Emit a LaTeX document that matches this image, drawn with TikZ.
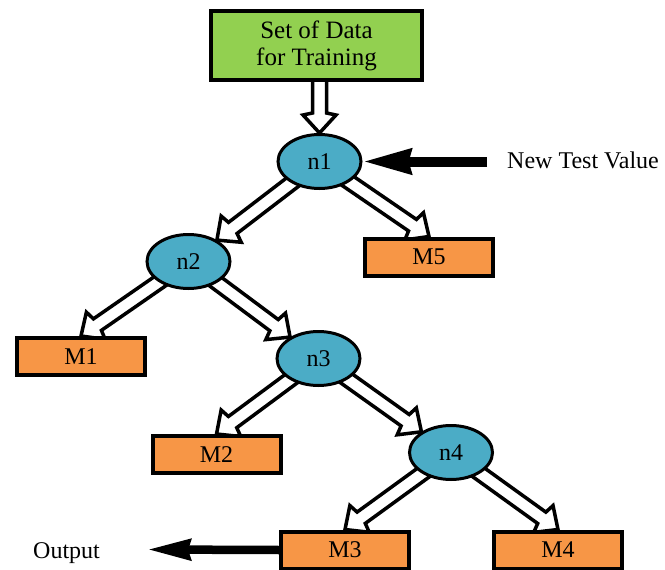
\documentclass[tikz,border=0pt]{standalone}
\usepackage{fontspec}
\setmainfont{Liberation Serif}
\usetikzlibrary{arrows.meta,shapes.geometric,backgrounds}

\definecolor{leafgreen}{HTML}{92D050}
\definecolor{nodeblue}{HTML}{4BACC6}
\definecolor{modelorange}{HTML}{F79646}

\tikzset{
  every node/.style={font=\fontsize{24}{27}\selectfont},
  databox/.style={draw, line width=4pt, fill=leafgreen, minimum width=211pt,
    minimum height=69pt, align=center, inner sep=0pt,
    font=\fontsize{25}{27}\selectfont},
  splitnode/.style={ellipse, draw, line width=3pt, fill=nodeblue,
    minimum width=83pt, minimum height=54pt, inner sep=0pt},
  modelbox/.style={draw, line width=4pt, fill=modelorange,
    minimum width=128pt, minimum height=37pt, inner sep=0pt},
  plaintext/.style={inner sep=0pt},
  hollow/.style={draw=black, fill=white, line width=3.5pt, line join=miter},
  inarrow/.style={line width=10pt, -{Stealth[length=48pt,width=24pt,inset=2pt]}},
  outarrow/.style={line width=8.5pt, -{Stealth[length=43pt,width=20pt,inset=2pt]}},
}

% Outlined (hollow) block arrow from the first point to the second
\newcommand\hollowarrow[2]{%
  \path (#1); \pgfgetlastxy{\hax}{\hay}%
  \path (#2); \pgfgetlastxy{\hbx}{\hby}%
  \pgfmathsetmacro\hang{atan2(\hby-\hay,\hbx-\hax)}%
  \pgfmathsetmacro\hlen{veclen(\hbx-\hax,\hby-\hay)}%
  \pgfmathsetmacro\hjoin{\hlen-20}%
  \pgfmathsetmacro\hbarb{\hlen-18}%
  \draw[hollow, shift={(\hax,\hay)}, rotate=\hang]
    (0pt,7pt) -- (\hjoin pt,7pt) -- (\hbarb pt,16.5pt) -- (\hlen pt,0pt)
    -- (\hbarb pt,-16.5pt) -- (\hjoin pt,-7pt) -- (0pt,-7pt) -- cycle;
}

\begin{document}
\begin{tikzpicture}[x=1pt,y=-1pt]
\useasboundingbox (0,0) rectangle (665,570);

% training data
\node[databox] (data) at (316.5,45.5) {Set of Data\\for Training};

% split nodes
\node[splitnode] (n1) at (319.5,161.5) {n1};
\node[splitnode] (n2) at (188.5,261.5) {n2};
\node[splitnode] (n3) at (318.5,358.5) {n3};
\node[splitnode] (n4) at (451,452.5) {n4};

% leaf models
\node[modelbox] (m1) at (81,356.5) {M1};
\node[modelbox] (m2) at (216.5,454.5) {M2};
\node[modelbox] (m3) at (345,550) {M3};
\node[modelbox] (m4) at (558,550) {M4};
\node[modelbox] (m5) at (429,257) {M5};

% input and output
\coordinate (testin) at (487,161.5);
\node[plaintext, anchor=west] (testlbl) at (507,160) {New Test Value};
\coordinate (outtip) at (147,549.5);
\node[plaintext, anchor=base west] (outlbl) at (33,558) {Output};
\draw[inarrow] (testin) -- (n1.east);
\draw[outarrow] (m3.west) -- (outtip);

% tree edges
\begin{scope}[on background layer]
  \hollowarrow{data.center -| n1.north}{n1.north}
  \hollowarrow{n1.center}{n2.37}
  \hollowarrow{n1.center}{m5.north}
  \hollowarrow{n2.center}{m1.north}
  \hollowarrow{n2.center}{n3.143}
  \hollowarrow{n3.center}{m2.north}
  \hollowarrow{n3.center}{n4.145}
  \hollowarrow{n4.center}{m3.north}
  \hollowarrow{n4.center}{m4.north}
\end{scope}
\end{tikzpicture}
\end{document}
